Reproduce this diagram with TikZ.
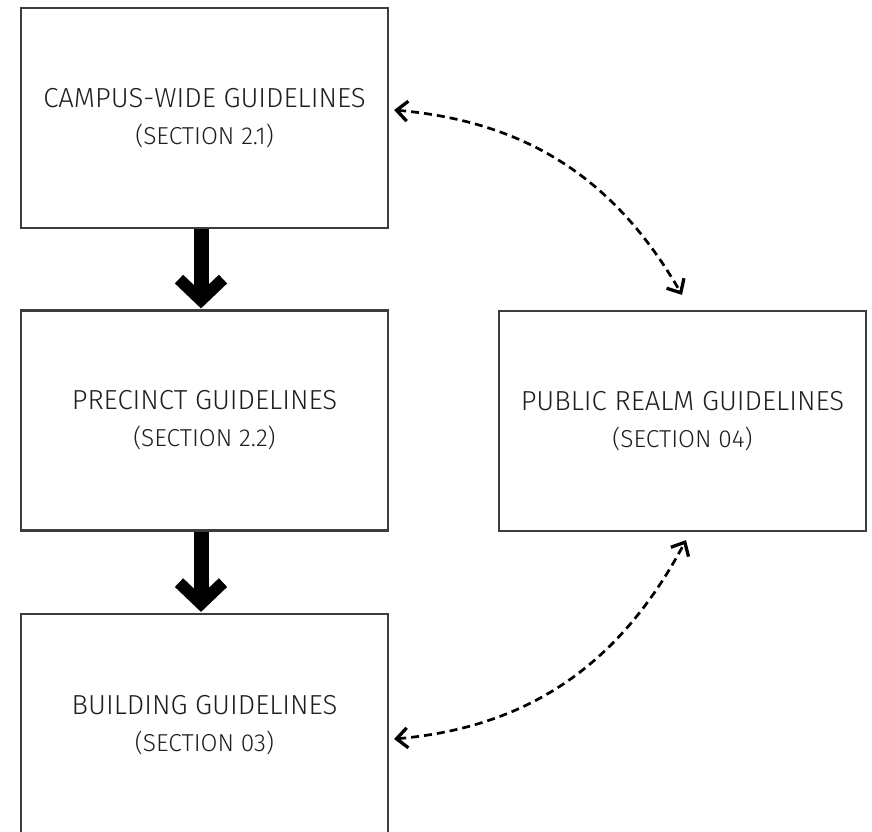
\documentclass[tikz,border=0pt]{standalone}
\usepackage{fontspec}
\setmainfont{Fira Sans}[UprightFont=* Light]
\usetikzlibrary{arrows.meta,calc}
\definecolor{boxline}{RGB}{55,63,70}
\definecolor{txt}{RGB}{30,30,30}
\newcommand{\subl}[1]{{\fontsize{24.5}{37}\selectfont #1}}
\begin{document}
\begin{tikzpicture}[x=1pt,y=1pt,
  gbox/.style={draw=boxline,line width=2.2,minimum width=367,minimum height=220,
    inner sep=0,align=center,text=txt,font=\fontsize{27.5}{37}\selectfont},
  bigarrow/.style={line width=15,-{Straight Barb[length=21,width=44,line width=12]}},
  dasharrow/.style={line width=2.7,dash pattern=on 8 off 5,
    {Straight Barb[length=11,width=20,line width=3.3]}-{Straight Barb[length=11,width=20,line width=3.3]}}
]
\useasboundingbox (0,0) rectangle (872,831);
\begin{scope}
\clip (0,0) rectangle (872,831);
\node[gbox] (b1) at (204.5,713) {CAMPUS-WIDE GUIDELINES\\\subl{(SECTION 2.1)}};
\node[gbox] (b2) at (204.5,410.5) {PRECINCT GUIDELINES\\\subl{(SECTION 2.2)}};
\node[gbox,minimum height=222] (b3) at (204.5,106) {BUILDING GUIDELINES\\\subl{(SECTION 03)}};
\node[gbox] (b4) at (682.5,410) {PUBLIC REALM GUIDELINES\\\subl{(SECTION 04)}};
\end{scope}
\draw[bigarrow] ([xshift=-3.5]b1.south) -- ([xshift=-3.5,yshift=1]b2.north);
\draw[bigarrow] ([xshift=-3.5]b2.south) -- ([xshift=-3.5,yshift=1]b3.north);
\coordinate (p1) at ($(b1.east)+(5,8)$);
\coordinate (p2) at ($(b4.north)+(-0.5,15)$);
\coordinate (p3) at ($(b3.east)+(5,-14)$);
\coordinate (p4) at ($(b4.south)+(3.5,-8)$);
\draw[dasharrow] (p1) to[out=-5,in=120] (p2);
\draw[dasharrow] (p3) to[out=5,in=-118] (p4);
\end{tikzpicture}
\end{document}
